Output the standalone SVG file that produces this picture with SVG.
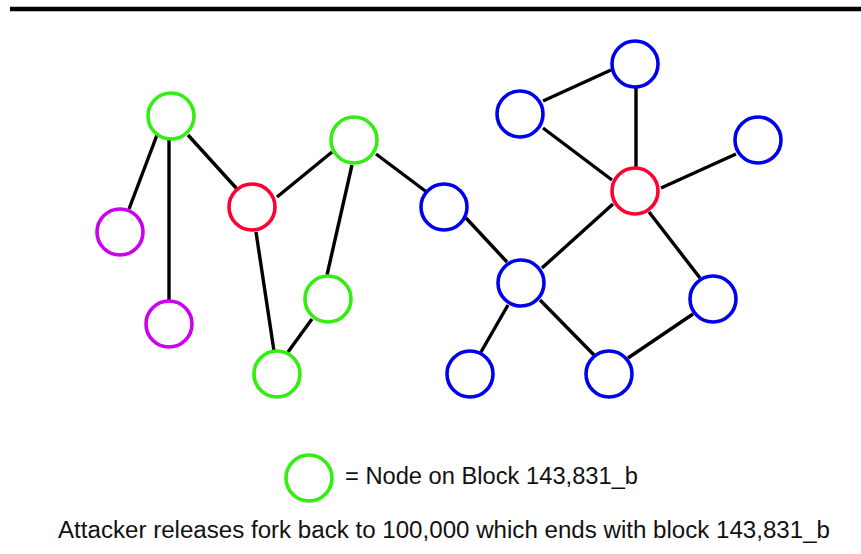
<svg xmlns="http://www.w3.org/2000/svg" width="861" height="554" viewBox="0 0 861 554">
<style>
.n{fill:#fff;stroke-width:3.6}
.g{stroke:#33ee11}
.r{stroke:#ff0033}
.b{stroke:#0000ee}
.m{stroke:#cc00ee}
#edges line{stroke:#000;stroke-width:3.4}
text{font-family:"Liberation Sans",Arial,sans-serif;font-size:23.5px;fill:#111}
</style>
<rect width="861" height="554" fill="#fff"/>
<line x1="10" y1="9" x2="861" y2="9" stroke="#000" stroke-width="4.5"/>
<g id="edges">
<line x1="157" y1="135" x2="129" y2="209"/>
<line x1="169" y1="140" x2="169" y2="301"/>
<line x1="188" y1="135" x2="237" y2="189"/>
<line x1="277" y1="197" x2="332" y2="152"/>
<line x1="376" y1="154" x2="428" y2="193"/>
<line x1="352" y1="165" x2="327" y2="275"/>
<line x1="256" y1="232" x2="274" y2="351"/>
<line x1="312" y1="319" x2="288" y2="352"/>
<line x1="466" y1="218" x2="507" y2="262"/>
<line x1="542" y1="268" x2="613" y2="204"/>
<line x1="661" y1="188" x2="736" y2="154"/>
<line x1="636" y1="86" x2="636" y2="167"/>
<line x1="543" y1="101" x2="611" y2="70"/>
<line x1="543" y1="128" x2="612" y2="180"/>
<line x1="649" y1="212" x2="700" y2="278"/>
<line x1="508" y1="305" x2="481" y2="352"/>
<line x1="540" y1="300" x2="594" y2="355"/>
<line x1="628" y1="358" x2="693" y2="314"/>
</g>
<g id="g1"><circle class="n g" cx="171" cy="116" r="23"/></g>
<g id="g2"><circle class="n g" cx="354" cy="140" r="23"/></g>
<g id="g3"><circle class="n g" cx="328" cy="299" r="23"/></g>
<g id="g4"><circle class="n g" cx="277" cy="374" r="23"/></g>
<g id="r1"><circle class="n r" cx="252" cy="207" r="23"/></g>
<g id="r2"><circle class="n r" cx="635" cy="191" r="23"/></g>
<g id="m1"><circle class="n m" cx="120" cy="232" r="23"/></g>
<g id="m2"><circle class="n m" cx="169" cy="324" r="23"/></g>
<g id="b1"><circle class="n b" cx="444" cy="207" r="23"/></g>
<g id="b2"><circle class="n b" cx="635" cy="64" r="23"/></g>
<g id="b3"><circle class="n b" cx="520" cy="114" r="23"/></g>
<g id="b4"><circle class="n b" cx="758" cy="140" r="23"/></g>
<g id="b5"><circle class="n b" cx="521" cy="283" r="23"/></g>
<g id="b6"><circle class="n b" cx="713" cy="299" r="23"/></g>
<g id="b7"><circle class="n b" cx="470" cy="374" r="23"/></g>
<g id="b8"><circle class="n b" cx="609" cy="374" r="23"/></g>
<g id="legend">
<circle class="n g" cx="309" cy="478" r="23"/>
<text x="345" y="484" textLength="293" lengthAdjust="spacingAndGlyphs">= Node on Block 143,831_b</text>
</g>
<text x="58" y="538" textLength="772" lengthAdjust="spacingAndGlyphs">Attacker releases fork back to 100,000 which ends with block 143,831_b</text>
</svg>
